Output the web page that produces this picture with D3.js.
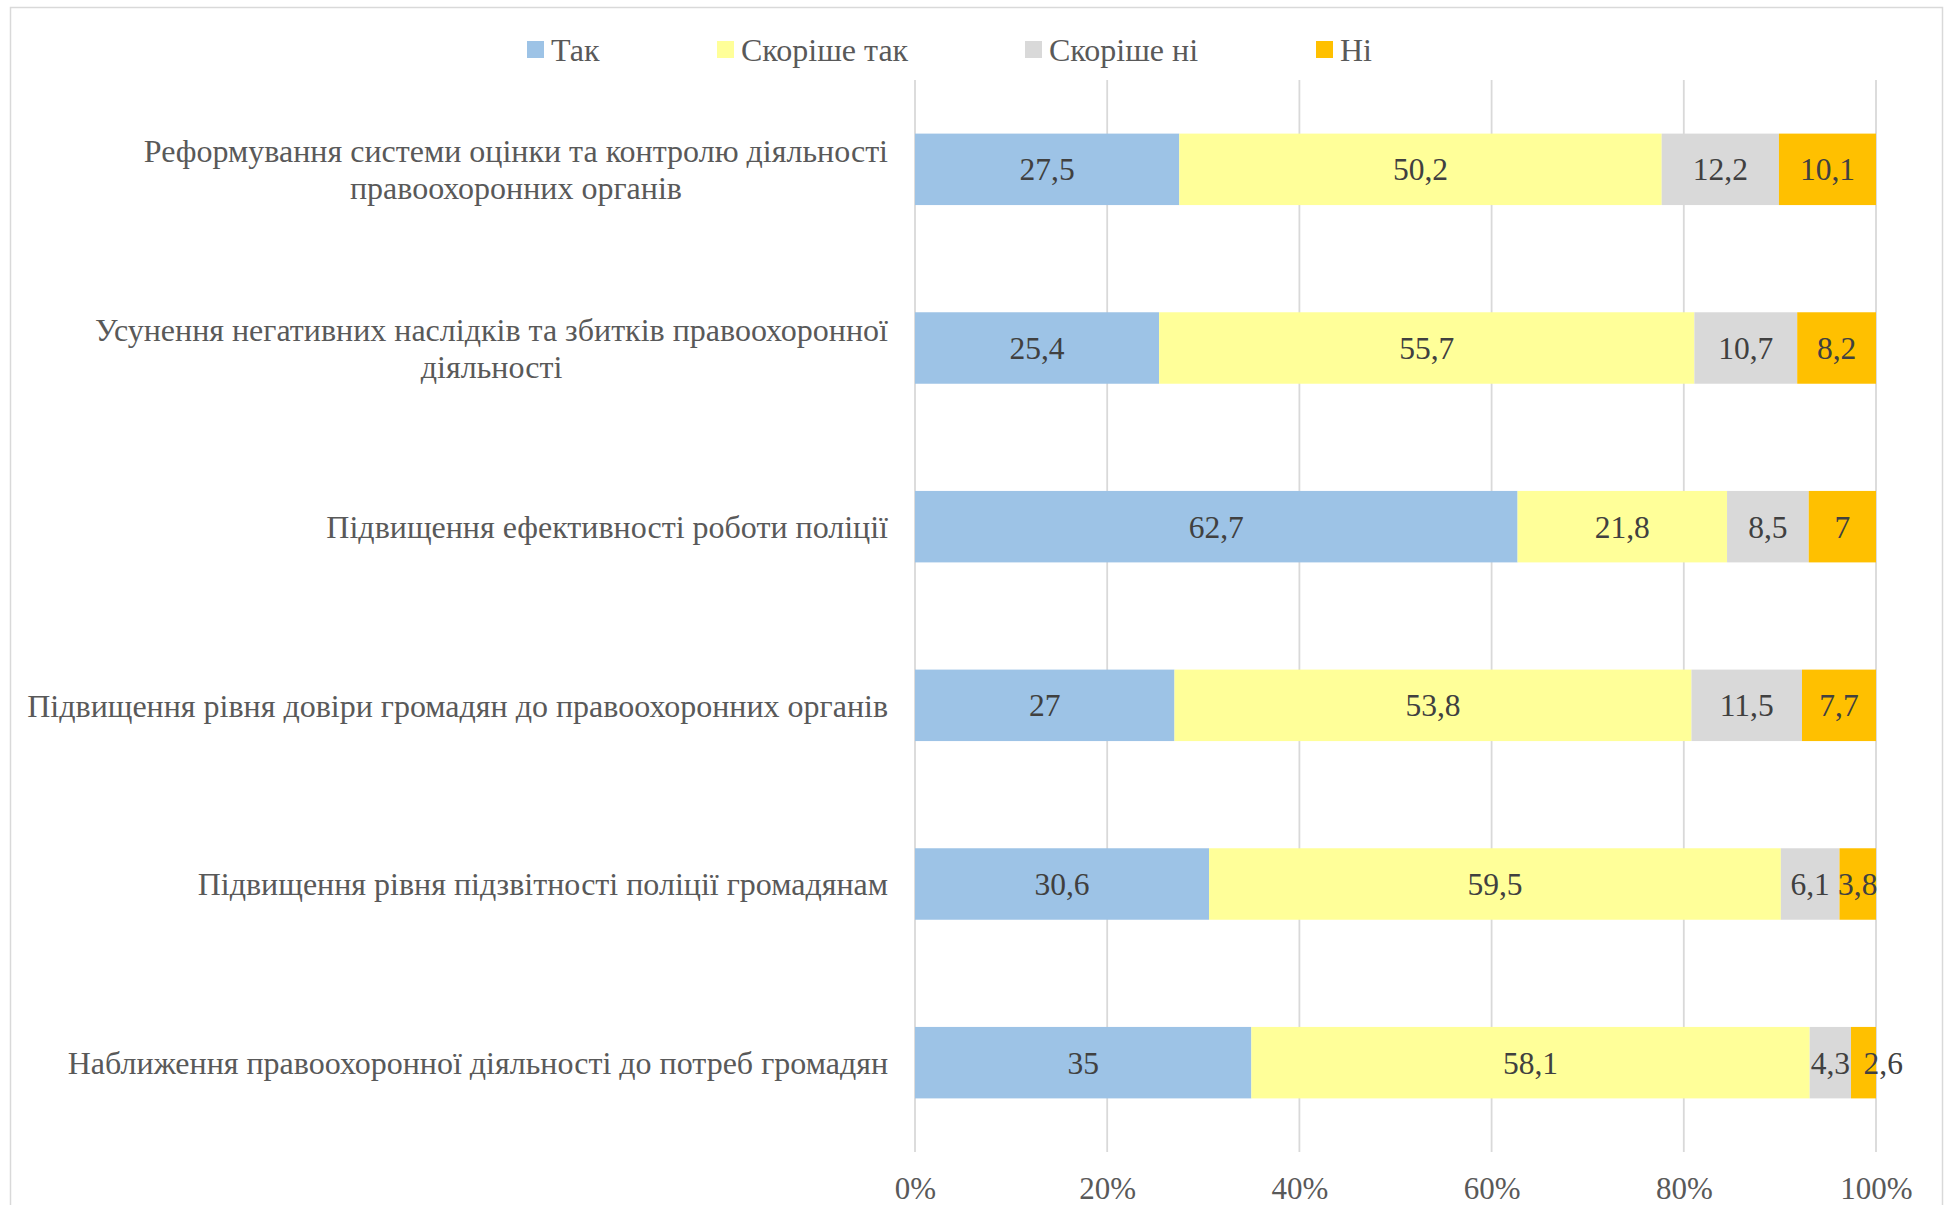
<!DOCTYPE html>
<html>
<head>
<meta charset="utf-8">
<script src="https://cdn.jsdelivr.net/npm/d3@7"></script>
<style>
  html, body { margin: 0; padding: 0; background: #fff; }
  svg { display: block; }
  svg text { font-family: "Liberation Serif", "Times New Roman", serif !important; }
</style>
</head>
<body>
<svg id="chart" width="1945" height="1205"></svg>
<script>
const categories = [
  ["Реформування системи оцінки та контролю діяльності", "правоохоронних органів"],
  ["Усунення негативних наслідків та збитків правоохоронної", "діяльності"],
  ["Підвищення ефективності роботи поліції"],
  ["Підвищення рівня довіри громадян до правоохоронних органів"],
  ["Підвищення рівня підзвітності поліції громадянам"],
  ["Наближення правоохоронної діяльності до потреб громадян"]
];
const seriesNames = ["Так", "Скоріше так", "Скоріше ні", "Ні"];
const seriesColors = ["#9DC3E6", "#FFFF99", "#D9D9D9", "#FFC000"];
const tak         = [27.5, 25.4, 62.7, 27,   30.6, 35];
const skorisheTak = [50.2, 55.7, 21.8, 53.8, 59.5, 58.1];
const skorisheNi  = [12.2, 10.7, 8.5,  11.5, 6.1,  4.3];
const ni          = [10.1, 8.2,  7,    7.7,  3.8,  2.6];
const tickValues = [0, 0.2, 0.4, 0.6, 0.8, 1.0];

const FONT = "Liberation Serif, Times New Roman, serif";
const svg = d3.select("#chart");

// chart border
svg.append("rect").attr("x", 10.5).attr("y", 7.5).attr("width", 1932).attr("height", 1220)
  .attr("fill", "none").attr("stroke", "#D9D9D9").attr("stroke-width", 1.5);

const plot = { left: 915, right: 1876, top: 80, bottom: 1152 };

const x = d3.scaleLinear().domain([0, 1]).range([plot.left, plot.right]);
const idx = d3.range(categories.length);
const y = d3.scaleBand().domain(idx).range([plot.top, plot.bottom]).paddingInner(0.6).paddingOuter(0.3);

const rows = idx.map(i => ({ i, vals: [tak[i], skorisheTak[i], skorisheNi[i], ni[i]] }));
const stackData = rows.map(r => { const o = { i: r.i }; const tot = d3.sum(r.vals); r.vals.forEach((v, k) => o[k] = v / tot); o.raw = r.vals; return o; });
const layers = d3.stack().keys([0, 1, 2, 3])(stackData);

// gridlines
svg.append("g").selectAll("line").data(tickValues).join("line")
  .attr("x1", d => x(d)).attr("x2", d => x(d))
  .attr("y1", plot.top).attr("y2", plot.bottom)
  .attr("stroke", "#D9D9D9").attr("stroke-width", 1.8);

// bars
const gBars = svg.append("g");
layers.forEach((layer, k) => {
  gBars.append("g").attr("fill", seriesColors[k]).selectAll("rect").data(layer).join("rect")
    .attr("x", d => x(d[0])).attr("width", d => x(d[1]) - x(d[0]))
    .attr("y", d => y(d.data.i)).attr("height", y.bandwidth());
});

// data labels
const fmt = v => String(v).replace(".", ",");
const gLab = svg.append("g").attr("font-family", FONT).attr("font-size", 31.5).attr("fill", "#404040");
layers.forEach((layer, k) => {
  layer.forEach(d => {
    const x0 = x(d[0]), x1 = x(d[1]);
    const cx = (x0 + x1) / 2;
    const t = gLab.append("text").text(fmt(d.data.raw[k]))
      .attr("x", cx).attr("y", y(d.data.i) + y.bandwidth() / 2)
      .attr("dy", "0.35em").attr("text-anchor", "middle");
    const tw = t.node().getComputedTextLength();
    if (tw > (x1 - x0) * 1.4) t.attr("text-anchor", "start");
  });
});

// category labels (block right-aligned, lines centred within block)
const gCat = svg.append("g").attr("font-family", FONT).attr("font-size", 32).attr("fill", "#595959");
const labelRight = 888;
categories.forEach((lines, i) => {
  const cy = y(i) + y.bandwidth() / 2;
  const lh = 37;
  const g = gCat.append("g");
  const ts = lines.map((ln, j) => g.append("text").text(ln)
      .attr("y", cy + (j - (lines.length - 1) / 2) * lh)
      .attr("dy", "0.35em").attr("text-anchor", "middle"));
  const maxW = d3.max(ts, t => t.node().getComputedTextLength());
  ts.forEach(t => t.attr("x", labelRight - maxW / 2));
});

// x axis labels
const xAxis = d3.axisBottom(x).tickValues(tickValues).tickFormat(d3.format(".0%")).tickSize(0).tickPadding(0);
const gx = svg.append("g").attr("transform", `translate(0, ${plot.bottom})`).call(xAxis);
gx.attr("font-family", FONT).attr("font-size", 31);
gx.select(".domain").remove();
gx.selectAll("text").attr("fill", "#595959").attr("y", 47).attr("dy", 0);

// legend
const legendX = [527, 717, 1025, 1316];
const gLeg = svg.append("g").attr("font-family", FONT).attr("font-size", 32).attr("fill", "#595959");
seriesNames.forEach((name, k) => {
  gLeg.append("rect").attr("x", legendX[k]).attr("y", 41).attr("width", 17).attr("height", 17)
    .attr("fill", seriesColors[k]);
  gLeg.append("text").text(name).attr("x", legendX[k] + 24).attr("y", 61);
});
</script>
</body>
</html>
